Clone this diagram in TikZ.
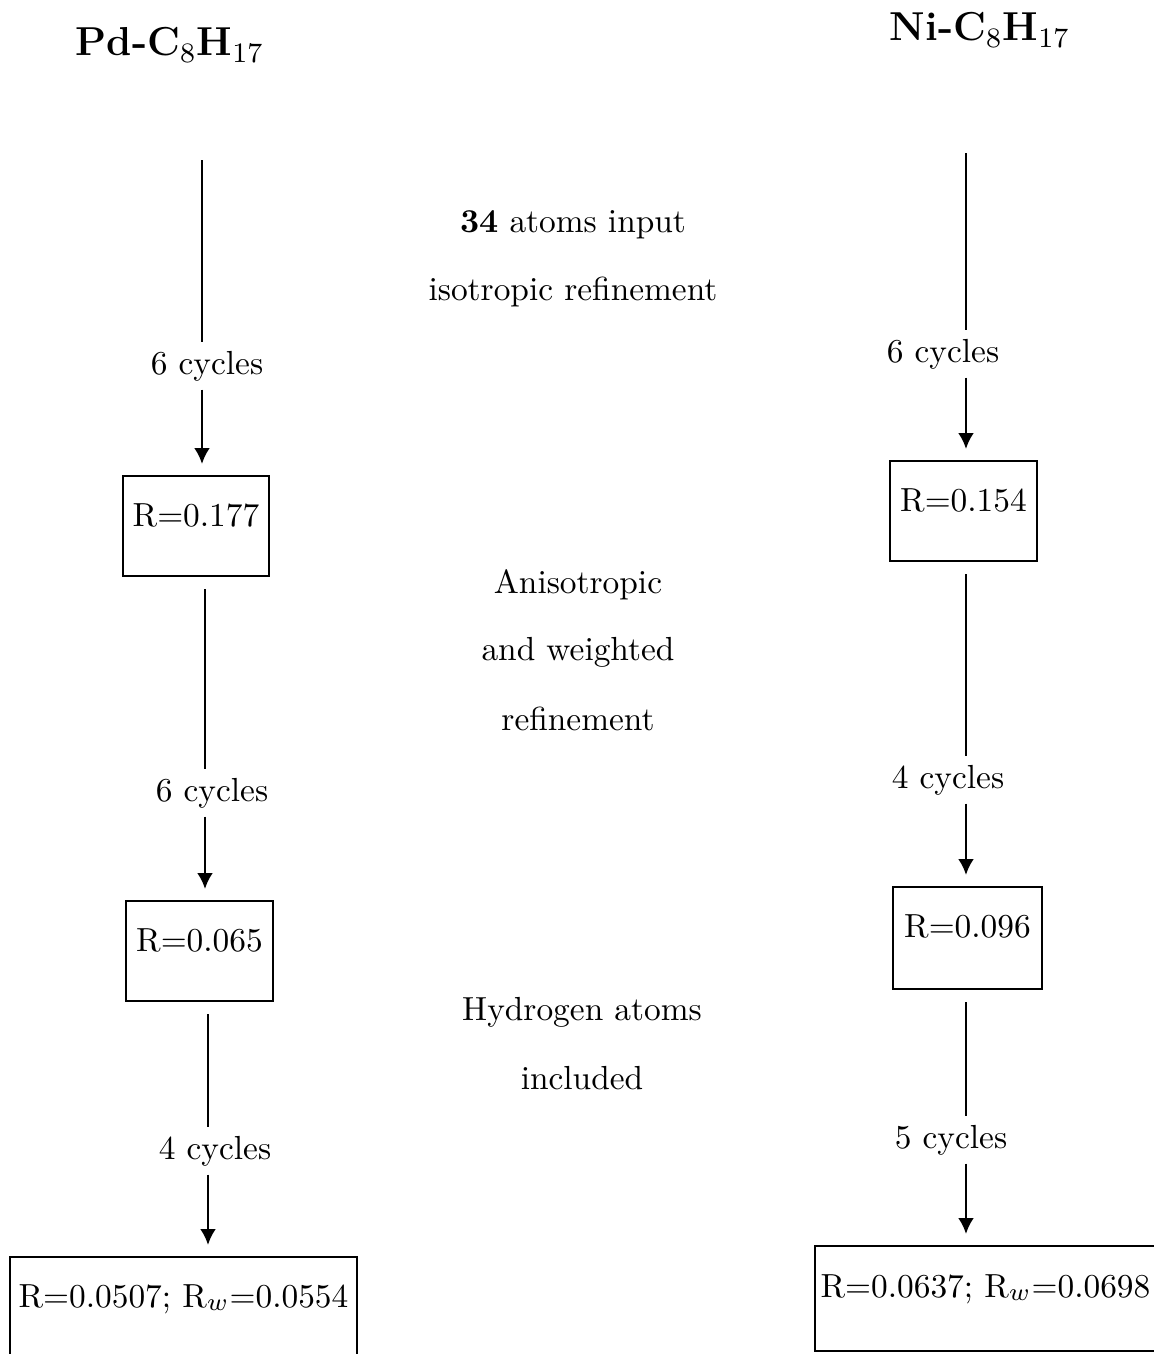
\documentclass[tikz,border=0pt]{standalone}
\usetikzlibrary{arrows.meta}
\begin{document}
\begin{tikzpicture}[x=0.1mm,y=-0.1mm,
  txt/.style={font=\fontsize{9.5}{11}\selectfont},
  lbl/.style={txt, inner sep=0.8mm},
  rbox/.style={draw, line width=0.6pt, txt, inner sep=0pt, anchor=north,
               text height=5mm, text depth=5mm, minimum width=#1},
  ttl/.style={font=\fontsize{11.5}{13}\selectfont\bfseries},
  conn/.style={line width=0.8pt, shorten <=1.2mm},
  arr/.style={line width=0.8pt, shorten >=1.1mm, -{Latex[length=1.6mm,width=1.6mm]}}]
\useasboundingbox (0,0) rectangle (1154,1354);

% titles
\node[ttl] (tPd) at (170,45) {Pd-C$_8$H$_{17}$};
\node[ttl] (tNi) at (980,30) {Ni-C$_8$H$_{17}$};

% middle annotations
\node[txt] (m1) at (573,225) {\textbf{34} atoms input};
\node[txt] (m2) at (573,292) {isotropic refinement};
\node[txt] (m3) at (578,585) {Anisotropic};
\node[txt] (m4) at (578,652) {and weighted};
\node[txt] (m5) at (578,719) {refinement};
\node[txt] (m6) at (582,1012) {Hydrogen atoms};
\node[txt] (m7) at (582,1078) {included};

% left column
\coordinate (sL1) at (202,160);
\coordinate (sL2) at (205,585);
\coordinate (sL3) at (208,1010);
\node[lbl] (lL1) at (207,366) {6 cycles};
\node[rbox=14.6mm] (bL1) at (196,475) {R=0.177};
\node[lbl] (lL2) at (212,793) {6 cycles};
\node[rbox=14.7mm] (bL2) at (199.5,900) {R=0.065};
\node[lbl] (lL3) at (215,1151) {4 cycles};
\node[rbox=34.7mm] (bL3) at (183.5,1256) {R=0.0507; R$_w$=0.0554};

\draw[line width=0.8pt] (sL1) -- (sL1 |- lL1.north);
\draw[arr] (sL1 |- lL1.south) -- (sL1 |- bL1.north);
\draw[conn] (sL2 |- bL1.south) -- (sL2 |- lL2.north);
\draw[arr] (sL2 |- lL2.south) -- (sL2 |- bL2.north);
\draw[conn] (sL3 |- bL2.south) -- (sL3 |- lL3.north);
\draw[arr] (sL3 |- lL3.south) -- (sL3 |- bL3.north);

% right column
\coordinate (sR1) at (966,153);
\node[lbl] (lR1) at (943,354) {6 cycles};
\node[rbox=14.7mm] (bR1) at (963.5,460) {R=0.154};
\node[lbl] (lR2) at (948,780) {4 cycles};
\node[rbox=14.9mm, text depth=5.2mm] (bR2) at (967.5,886) {R=0.096};
\node[lbl] (lR3) at (951,1140) {5 cycles};
\node[rbox=34.1mm, text height=5.1mm, text depth=5.4mm] (bR3) at (985.5,1245) {R=0.0637; R$_w$=0.0698};

\draw[line width=0.8pt] (sR1) -- (sR1 |- lR1.north);
\draw[arr] (sR1 |- lR1.south) -- (sR1 |- bR1.north);
\draw[conn] (sR1 |- bR1.south) -- (sR1 |- lR2.north);
\draw[arr] (sR1 |- lR2.south) -- (sR1 |- bR2.north);
\draw[conn] (sR1 |- bR2.south) -- (sR1 |- lR3.north);
\draw[arr] (sR1 |- lR3.south) -- (sR1 |- bR3.north);
\end{tikzpicture}
\end{document}
